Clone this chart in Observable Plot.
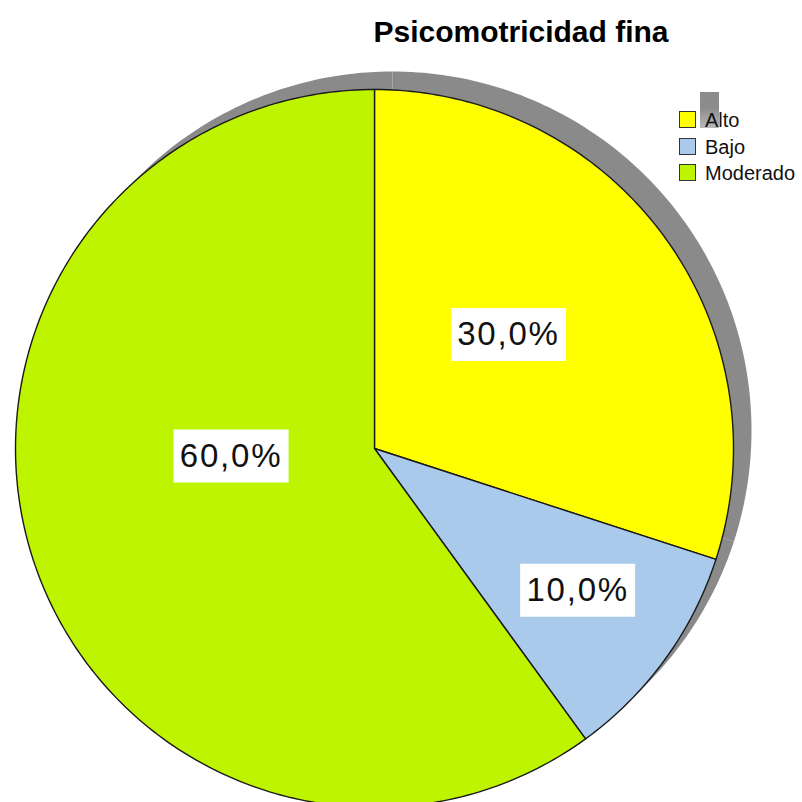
<!DOCTYPE html>
<html><head><meta charset="utf-8">
<script src="https://cdn.jsdelivr.net/npm/d3@7"></script>
<script src="https://cdn.jsdelivr.net/npm/@observablehq/plot@0.6"></script>
<style>
body{margin:0;background:#fff;}
#wrap{position:relative;width:802px;height:802px;overflow:hidden;font-family:"Liberation Sans",Arial,sans-serif;background:#fff;}
#wrap svg{position:absolute;left:0;top:0;}
#wrap svg text{letter-spacing:1.8px;}
#title{position:absolute;top:17px;left:521px;transform:translateX(-50%);font-size:30px;line-height:30px;font-weight:bold;color:#000;white-space:nowrap;}
.lg{position:absolute;left:679px;font-size:20px;line-height:20px;color:#111;white-space:nowrap;}
.sw{position:absolute;left:0;top:1px;width:15px;height:15px;border:1.5px solid #333;}
.lt{position:absolute;left:26px;top:0;}
#ghost{position:absolute;left:700px;top:92px;width:19px;height:36px;background:linear-gradient(#8c8c8c 0,#8c8c8c 45%,#b8b8b8 100%);}
</style></head><body><div id="wrap"></div>
<script>
// ---- data ----
const title = "Psicomotricidad fina";
const categories = ["Alto", "Bajo", "Moderado"];
const percentages = [30.0, 10.0, 60.0];
const percentLabels = ["30,0%", "10,0%", "60,0%"];
const sliceColors = ["#ffff00", "#a9caeb", "#bef400"];

// ---- layout (not data) ----
const W = 802, H = 802, R = 359, cx = 374, cy = 448;
const labelPlacement = { Alto: [49.6, 0.49], Bajo: [124.9, 0.69], Moderado: [267, 0.40] };

// build slice polygons in unit-circle coordinates (clockwise from top)
const total = d3.sum(percentages);
let acc = 0;
const slicePts = [];
const labelData = [];
categories.forEach((c, i) => {
  const a0 = acc / total * 360, a1 = (acc + percentages[i]) / total * 360;
  acc += percentages[i];
  slicePts.push({cat: c, x: 0, y: 0});
  const n = Math.max(2, Math.ceil(a1 - a0));
  for (let k = 0; k <= n; k++) {
    const t = (a0 + (a1 - a0) * k / n) * Math.PI / 180;
    slicePts.push({cat: c, x: Math.sin(t), y: Math.cos(t)});
  }
  const [ang, rr] = labelPlacement[c];
  const t = ang * Math.PI / 180;
  labelData.push({cat: c, text: percentLabels[i], x: rr * Math.sin(t), y: rr * Math.cos(t)});
});

const boxSymbol = {draw(ctx) { ctx.rect(-57.5, -26.5, 115, 53); }};

const chart = Plot.plot({
  width: W, height: H, margin: 0,
  x: {domain: [-cx / R, (W - cx) / R], axis: null},
  y: {domain: [(cy - H) / R, cy / R], axis: null},
  color: {domain: categories, range: sliceColors},
  style: {background: "transparent", fontFamily: "'Liberation Sans', Arial, sans-serif"},
  marks: [
    Plot.line(slicePts, {x: "x", y: "y", z: "cat", fill: "#8a8a8a", stroke: "none", curve: "linear-closed", dx: 18, dy: -18}),
    Plot.line(slicePts, {x: "x", y: "y", z: "cat", fill: "cat", stroke: "#1a1a1a", strokeWidth: 1.4, strokeLinejoin: "round", curve: "linear-closed"}),
    Plot.dot(labelData, {x: "x", y: "y", symbol: boxSymbol, fill: "white", stroke: "none", r: 10}),
    Plot.text(labelData, {x: "x", y: "y", text: "text", fontSize: 33, fill: "#111", textAnchor: "middle"})
  ]
});

const wrap = document.getElementById("wrap");
wrap.appendChild(chart);

const tdiv = document.createElement("div");
tdiv.id = "title"; tdiv.textContent = title;
wrap.appendChild(tdiv);

const ghost = document.createElement("div");
ghost.id = "ghost";
wrap.appendChild(ghost);

categories.forEach((c, i) => {
  const row = document.createElement("div");
  row.className = "lg";
  row.style.top = (110 + i * 26.5) + "px";
  const sw = document.createElement("div");
  sw.className = "sw"; sw.style.background = sliceColors[i];
  const lt = document.createElement("div");
  lt.className = "lt"; lt.textContent = c;
  row.appendChild(sw); row.appendChild(lt);
  wrap.appendChild(row);
});
</script>
</body></html>
